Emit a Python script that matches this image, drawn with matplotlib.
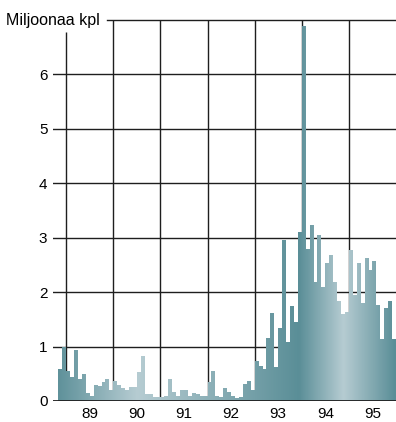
import numpy as np
import matplotlib
matplotlib.use("Agg")
import matplotlib.pyplot as plt
from matplotlib.path import Path
from matplotlib.patches import PathPatch
from matplotlib.colors import LinearSegmentedColormap

plt.rcParams['font.family'] = ['Liberation Sans', 'DejaVu Sans']

# monthly sales, million pieces, Nov 1988 .. Dec 1995
start_year = 1988 + 10 / 12
values = [0.59, 1.00,
          0.56, 0.44, 0.93, 0.40, 0.49, 0.15, 0.09, 0.29, 0.28, 0.35, 0.40, 0.21,
          0.36, 0.29, 0.23, 0.21, 0.25, 0.25, 0.54, 0.83, 0.12, 0.12, 0.07, 0.07,
          0.07, 0.09, 0.40, 0.17, 0.10, 0.21, 0.21, 0.10, 0.15, 0.12, 0.09, 0.09,
          0.34, 0.56, 0.09, 0.08, 0.23, 0.17, 0.09, 0.06, 0.08, 0.32, 0.37, 0.20,
          0.74, 0.65, 0.58, 1.16, 1.62, 0.63, 1.35, 2.96, 1.09, 1.75, 1.46, 3.11,
          6.89, 2.80, 3.23, 2.19, 3.05, 2.10, 2.54, 2.69, 2.19, 1.84, 1.59, 1.64,
          2.77, 1.94, 2.54, 1.80, 2.63, 2.40, 2.58, 1.76, 1.14, 1.71, 1.84, 1.13]
years = [1989, 1990, 1991, 1992, 1993, 1994, 1995]
year_labels = ['89', '90', '91', '92', '93', '94', '95']
y_ticks = [0, 1, 2, 3, 4, 5, 6]

xmin, xmax = 1988.72, 1996.0
ymax = 7

fig = plt.figure(figsize=(3.96, 4.22), dpi=100)
ax = fig.add_axes([53 / 396, 1 - 401 / 422, 343 / 396, 381 / 422])
ax.set_xlim(xmin, xmax)
ax.set_ylim(0, ymax)
for s in ax.spines.values():
    s.set_visible(False)

# grid
lc = '#1e1e1e'
for y in y_ticks[1:]:
    ax.axhline(y, color=lc, lw=1.0, zorder=1)
ax.axhline(ymax, xmin=0.157, xmax=1, color=lc, lw=1.0, zorder=1, clip_on=False)
ax.vlines(years[0], 0, 6.78, color=lc, lw=1.0, zorder=1)
ax.vlines(years[1:], 0, ymax, color=lc, lw=1.0, zorder=1)

# step outline of the monthly bars
n = len(values)
edges = start_year + np.arange(n + 1) / 12
verts = [(edges[0], 0)]
for i, v in enumerate(values):
    verts.append((edges[i], v))
    verts.append((edges[i + 1], v))
verts.append((edges[-1], 0))
verts.append((edges[0], 0))
codes = [Path.MOVETO] + [Path.LINETO] * (len(verts) - 2) + [Path.CLOSEPOLY]
outline = PathPatch(Path(verts, codes), transform=ax.transData,
                    facecolor='none', edgecolor='none')
ax.add_patch(outline)

# horizontal shading
dark, light = '#5a8e97', '#b6ccd2'
stops = [1988.83, 1990.5, 1993.95, 1994.9, 1996.0]
cols = [dark, light, dark, light, dark]
pos = [(s - xmin) / (xmax - xmin) for s in stops]
pos[0] = 0.0
pos[-1] = 1.0
cmap = LinearSegmentedColormap.from_list('shade', list(zip(pos, cols)))
grad = np.linspace(0, 1, 800).reshape(1, -1)
im = ax.imshow(grad, cmap=cmap, extent=[xmin, xmax, 0, ymax],
               aspect='auto', interpolation='bilinear', zorder=2)
im.set_clip_path(outline)

ax.axhline(0, color=lc, lw=1.3, zorder=3)

ax.set_xticks([y + 0.5 for y in years])
ax.set_xticklabels(year_labels)
ax.set_yticks(y_ticks)
ax.set_yticklabels([str(t) for t in y_ticks])
ax.tick_params(length=0, labelsize=11, colors='black')
ax.tick_params(axis='y', pad=4)
ax.tick_params(axis='x', pad=4)

fig.text(100 / 396, 1 - 20 / 422, 'Miljoonaa kpl', ha='right', va='center',
         fontsize=11.5)

fig.savefig('out.png', dpi=100)
